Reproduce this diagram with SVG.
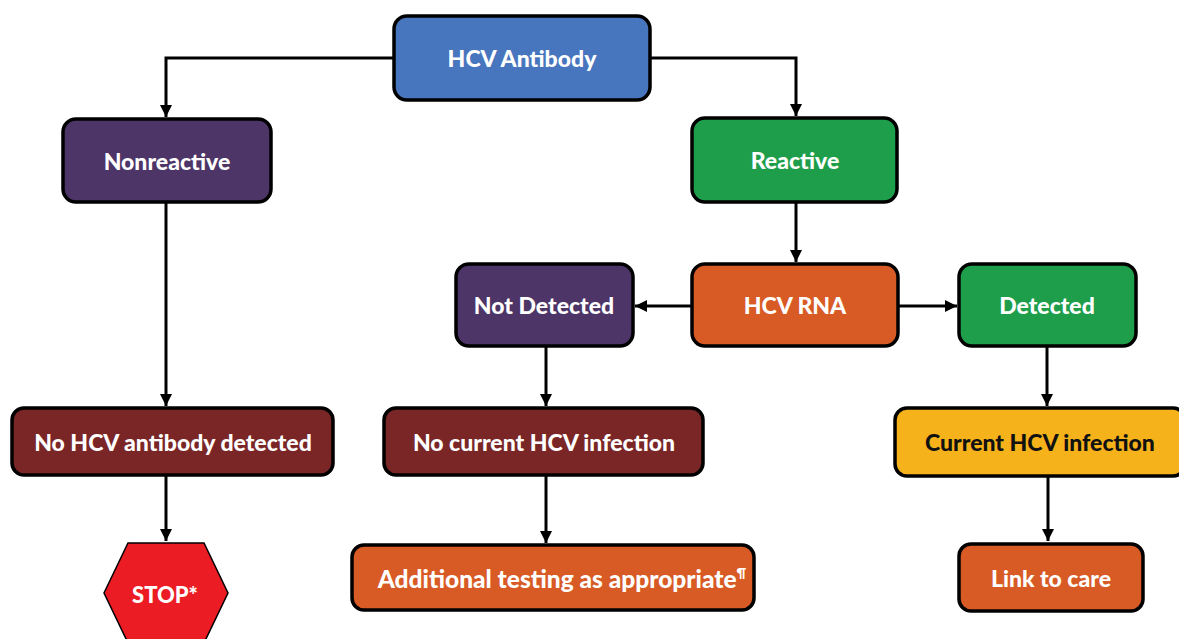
<svg xmlns="http://www.w3.org/2000/svg" width="1179" height="639" viewBox="0 0 1179 639">
<defs>
<style>
.box{stroke:#000;stroke-width:3.5}
.t{font-family:Lato,"Open Sans","Liberation Sans",sans-serif;font-weight:900;font-size:23px;fill:#fff;text-anchor:middle;dominant-baseline:central}
.c{fill:none;stroke:#000;stroke-width:3}
</style>
<marker id="a" viewBox="0 0 10 10" refX="10" refY="5" markerWidth="4" markerHeight="4" orient="auto" markerUnits="strokeWidth">
<path d="M0,0L10,5L0,10z" fill="#000"/>
</marker>
</defs>
<rect width="1179" height="639" fill="#fff"/>
<g id="connectors">
<path class="c" d="M394,58H166V117" marker-end="url(#a)"/>
<path class="c" d="M650,58H796V116" marker-end="url(#a)"/>
<path class="c" d="M796,202V262" marker-end="url(#a)"/>
<path class="c" d="M692,306H635" marker-end="url(#a)"/>
<path class="c" d="M898,306H957" marker-end="url(#a)"/>
<path class="c" d="M166,202V406" marker-end="url(#a)"/>
<path class="c" d="M546,346V406" marker-end="url(#a)"/>
<path class="c" d="M1047,346V406" marker-end="url(#a)"/>
<path class="c" d="M166,475V541" marker-end="url(#a)"/>
<path class="c" d="M546,475V543" marker-end="url(#a)"/>
<path class="c" d="M1048,476V541" marker-end="url(#a)"/>
</g>
<g id="hcv-antibody"><rect class="box" x="394" y="16" width="256" height="84" rx="13" fill="#4775BE"/><text class="t" x="522" y="58">HCV Antibody</text></g>
<g id="nonreactive"><rect class="box" x="63" y="119" width="208" height="83" rx="13" fill="#4D3567"/><text class="t" x="167" y="161">Nonreactive</text></g>
<g id="reactive"><rect class="box" x="692" y="118" width="205" height="84" rx="13" fill="#1E9E4A"/><text class="t" x="795" y="160">Reactive</text></g>
<g id="hcv-rna"><rect class="box" x="692" y="264" width="206" height="82" rx="13" fill="#D85A24"/><text class="t" x="795" y="305">HCV RNA</text></g>
<g id="not-detected"><rect class="box" x="456" y="264" width="177" height="82" rx="13" fill="#4D3567"/><text class="t" x="544" y="305">Not Detected</text></g>
<g id="detected"><rect class="box" x="959" y="264" width="177" height="82" rx="13" fill="#1E9E4A"/><text class="t" x="1047" y="305">Detected</text></g>
<g id="no-antibody"><rect class="box" x="12" y="408" width="321" height="67" rx="12" fill="#7A2626"/><text class="t" x="173" y="442">No HCV antibody detected</text></g>
<g id="no-current"><rect class="box" x="384" y="408" width="319" height="67" rx="12" fill="#7A2626"/><text class="t" x="544" y="442">No current HCV infection</text></g>
<g id="current"><rect class="box" x="895" y="408" width="290" height="68" rx="12" fill="#F6B21B"/><text class="t" x="1040" y="442" style="fill:#111">Current HCV infection</text></g>
<g id="stop"><polygon points="128,543 204,543 228,593 204,643 128,643 104,593" fill="#EC1C24" stroke="#000" stroke-width="1.5"/><text class="t" x="165" y="594" style="font-size:22px">STOP*</text></g>
<g id="additional"><rect class="box" x="352" y="545" width="402" height="65" rx="12" fill="#D85A24"/><text class="t" x="562" y="578" style="font-size:24.5px">Additional testing as appropriate<tspan font-size="13" dy="-5">¶</tspan></text></g>
<g id="link"><rect class="box" x="959" y="544" width="184" height="67" rx="12" fill="#D85A24"/><text class="t" x="1051" y="578">Link to care</text></g>
</svg>
